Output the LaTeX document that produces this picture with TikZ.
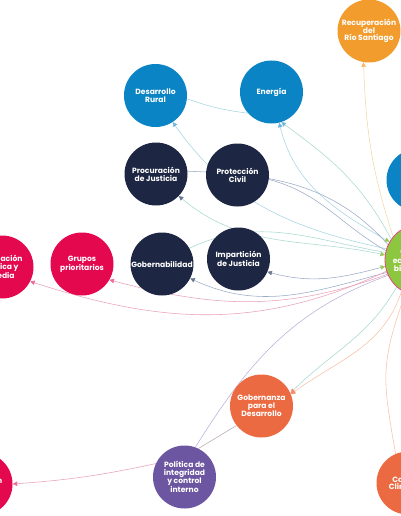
\documentclass[tikz,border=0pt]{standalone}
\usepackage{fontspec}
\setmainfont{Poppins}
\usetikzlibrary{arrows.meta}
\pgfdeclarelayer{bg}
\pgfsetlayers{bg,main}
\definecolor{cblue}{HTML}{0A84C4}
\definecolor{cnavy}{HTML}{1D2642}
\definecolor{cpink}{HTML}{E4084F}
\definecolor{corange}{HTML}{F39C2E}
\definecolor{ccoral}{HTML}{EC6A41}
\definecolor{cpurple}{HTML}{6D56A1}
\definecolor{cgreen}{HTML}{8DC63F}
\definecolor{cring}{HTML}{E8457C}
\definecolor{eblue}{HTML}{A5D5E0}
\definecolor{eorange}{HTML}{F1D6A8}
\definecolor{enavy}{HTML}{9AAAC6}
\definecolor{eteal}{HTML}{A7D8D0}
\definecolor{epink}{HTML}{E8A0B8}
\definecolor{ecoral}{HTML}{F5C2A6}
\definecolor{elav}{HTML}{B7B0D8}
\definecolor{ebrown}{HTML}{B8A8AC}
\definecolor{tblue}{HTML}{6FB6DF}
\definecolor{torange}{HTML}{F5B860}
\definecolor{tnavy}{HTML}{6C7891}
\definecolor{tpink}{HTML}{EE6C95}
\definecolor{tcoral}{HTML}{F08E6E}
\definecolor{tgreen}{HTML}{9CCB5A}
\begin{document}
\begin{tikzpicture}[x=1pt,y=1pt,
  topic/.style={circle, minimum size=63pt, inner sep=0pt, text=white,
    font=\fontsize{7.6}{7.8}\selectfont\bfseries, align=center},
  hub/.style={topic, minimum size=72pt, fill=cgreen, draw=cring, line width=0.8pt,
    font=\fontsize{7.6}{8.3}\selectfont\bfseries},
  link/.style={line width=0.55pt},
  arr/.style={-{Triangle[length=4.5pt,width=4.5pt,color=#1]}},
  both/.style={{Triangle[length=4.5pt,width=4.5pt,color=tgreen]}-{Triangle[length=4.5pt,width=4.5pt,color=#1]}}
]
\useasboundingbox (0,-516) rectangle (400,0);

\node[topic,fill=cblue] (DR) at (155.5,-95.5) {Desarrollo\\Rural};
\node[topic,fill=cblue] (EN) at (271.5,-92) {Energía};
\node[topic,fill=corange] (RS) at (369,-31) {Recuperación\\del\\Río Santiago};
\node[topic,fill=cnavy] (PJ) at (156,-174) {Procuración\\de Justicia};
\node[topic,fill=cnavy] (PC) at (237.5,-175) {Protección\\Civil};
\node[topic,fill=cnavy] (GO) at (162,-264) {Gobernabilidad};
\node[topic,fill=cnavy] (IJ) at (238.5,-259) {Impartición\\de Justicia};
\node[topic,fill=cpink] (GP) at (82,-264) {Grupos\\prioritarios};
\node[topic,fill=cpink] (ED) at (2,-267) {Educación\\básica y\\media};
\node[topic,fill=cblue] (BL) at (418,-180) {};
\node[hub] (H) at (421,-260) {Gestión de\\ecosistemas y\\biodiversidad};
\node[topic,fill=ccoral] (GD) at (261.5,-406) {Gobernanza\\para el\\Desarrollo};
\node[topic,fill=cpurple] (PI) at (184.5,-477) {Política de\\integridad\\y control\\interno};
\node[topic,fill=ccoral] (CC) at (408,-483) {Cambio\\Climático};
\node[topic,fill=cpink] (PK) at (-19,-484) {Activación\\física};

\begin{pgfonlayer}{bg}
\draw[link,eblue,arr=tblue] (H.162) to[out=168,in=-55] (DR.-57);
\draw[link,eblue,both=tblue] (H.150) to[out=150,in=-76] (EN.-76);
\draw[link,eteal,arr=tblue] (H.145) to[out=118,in=-36] (EN.-72);
\draw[link,eorange,arr=torange] (H.140) to[out=108,in=-88] (RS.-100);
\draw[link,enavy] (H.165) to[out=150,in=-15] (PC.-8);
\draw[link,enavy] (H.155) to[out=132,in=-2] (PJ.5);
\draw[link,eteal,both=tnavy] (H.172) to[out=168,in=-40] (PJ.-44);
\draw[link,enavy,both=tnavy] (H.190) to[out=195,in=-15] (IJ.-24);
\draw[link,eteal] (H.168) to[out=170,in=25] (GO.30);
\draw[link,enavy,arr=tnavy] (H.200) to[out=195,in=-25] (GO.-27);
\draw[link,epink,arr=tpink] (H.203) to[out=200,in=-15] (GP.-30);
\draw[link,epink,arr=tpink] (H.198) to[out=205,in=-18] (ED.-27);
\draw[link,eteal,arr=tcoral] (H.228) to[out=240,in=45] (GD.24);
\draw[link,ecoral,arr=tcoral] (H.238) to[out=252,in=36] (GD.22);
\draw[link,ebrown] (GD.218) -- (PI.64);
\draw[link,elav] (H.205) to[out=200,in=58] (PI.70);
\draw[link,epink,arr=tpink] (PI.155) to[bend left=4] (PK.east);
\draw[link,ecoral] (H.245) to[out=250,in=100,looseness=1.2] (CC.113);
\draw[link,eblue] (DR.-6) to[bend right=6] (EN.222);
\end{pgfonlayer}
\end{tikzpicture}
\end{document}
